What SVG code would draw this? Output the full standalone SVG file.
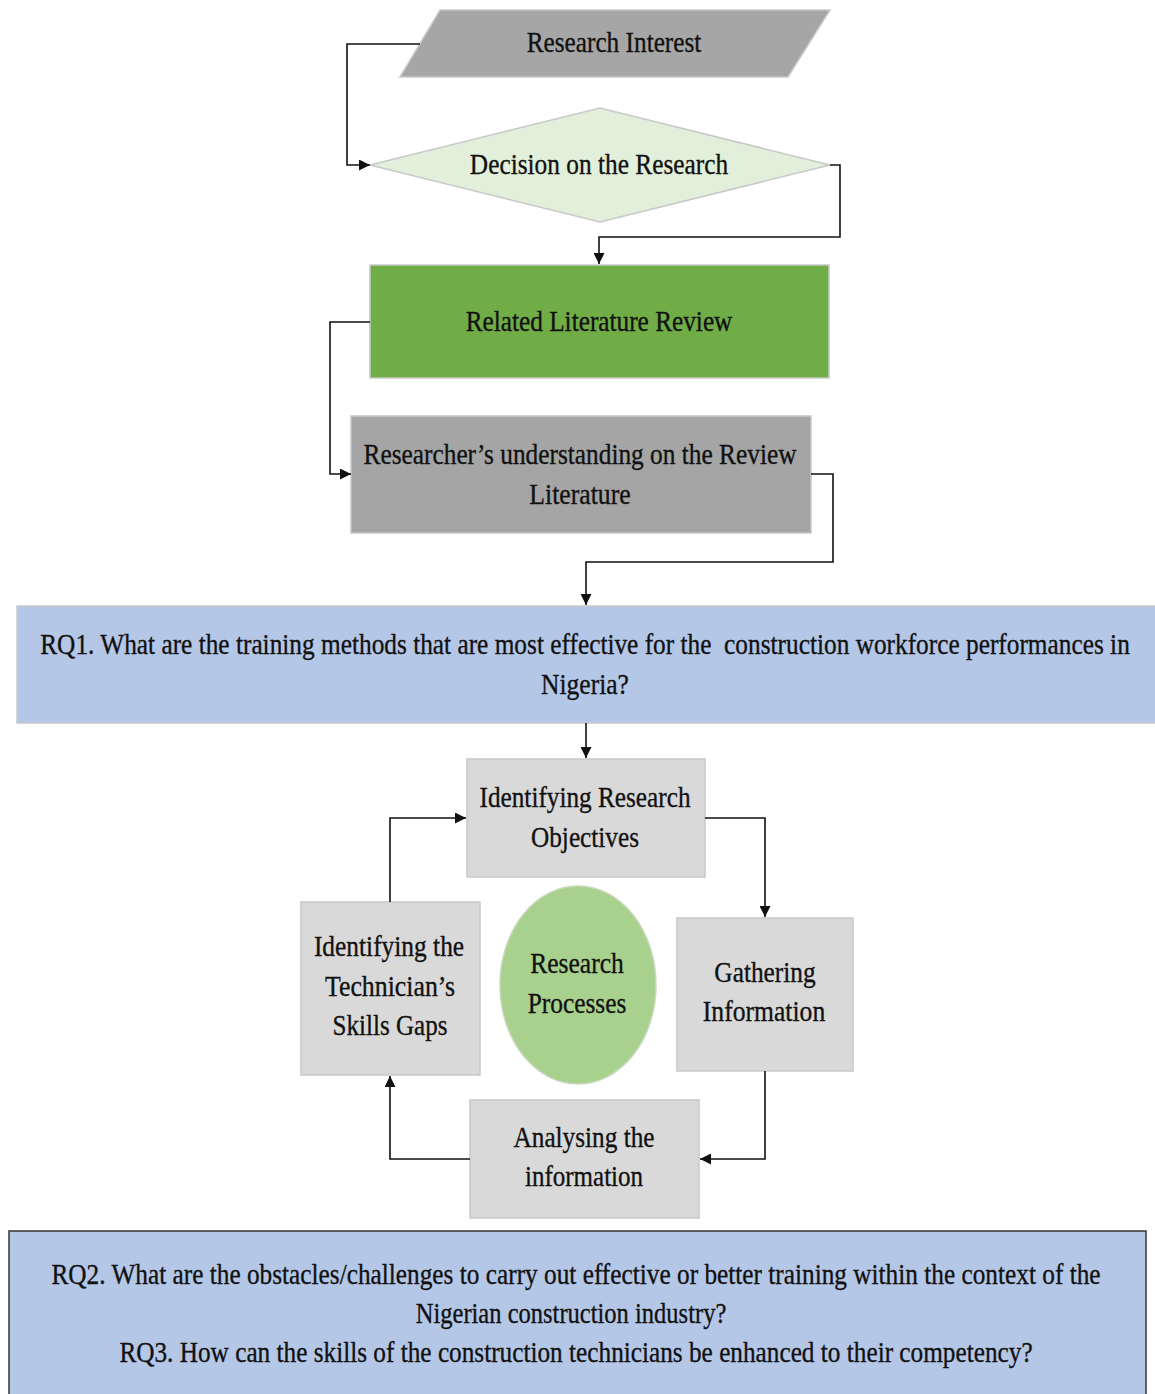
<svg xmlns="http://www.w3.org/2000/svg" width="1155" height="1394" viewBox="0 0 1155 1394">
  <style>
    .t { font-family: "Liberation Serif", "DejaVu Serif", serif; font-size: 30px; fill: #111; stroke: #111; stroke-width: 0.35; text-anchor: middle; }
    .box { stroke: #c8c8c8; stroke-width: 1.5; }
    .link { fill: none; stroke: #111; stroke-width: 1.6; marker-end: url(#arrow); }
  </style>
  <defs>
    <marker id="arrow" markerUnits="userSpaceOnUse" markerWidth="11" markerHeight="11" refX="11" refY="5.5" orient="auto">
      <path d="M0,0 L11,5.5 L0,11 z" fill="#111"/>
    </marker>
  </defs>
  <rect width="1155" height="1394" fill="#ffffff"/>

  <!-- flow nodes; labels are set in a narrowed serif via scale(0.844,1) -->
  <g id="research-interest">
    <polygon class="box" points="440,10 830,10 788,77 400,77" fill="#a6a6a6"/>
    <text class="t" transform="translate(614,52) scale(0.844,1)" textLength="207" lengthAdjust="spacingAndGlyphs">Research Interest</text>
  </g>
  <g id="decision">
    <polygon class="box" points="370,165 600,108 830,165 600,222" fill="#e2efda"/>
    <text class="t" transform="translate(599,174) scale(0.844,1)" textLength="306" lengthAdjust="spacingAndGlyphs">Decision on the Research</text>
  </g>
  <g id="literature-review">
    <rect class="box" x="370" y="265" width="459" height="113" fill="#70ad47"/>
    <text class="t" transform="translate(599,331) scale(0.844,1)" textLength="316" lengthAdjust="spacingAndGlyphs">Related Literature Review</text>
  </g>
  <g id="understanding">
    <rect class="box" x="351" y="416" width="460" height="117" fill="#a5a5a5"/>
    <text class="t" transform="translate(580,464) scale(0.844,1)" textLength="513" lengthAdjust="spacingAndGlyphs">Researcher’s understanding on the Review</text>
    <text class="t" transform="translate(580,504) scale(0.844,1)" textLength="120" lengthAdjust="spacingAndGlyphs">Literature</text>
  </g>
  <g id="rq1">
    <rect class="box" x="17" y="606" width="1150" height="117" fill="#b4c7e7"/>
    <text class="t" xml:space="preserve" transform="translate(585,654) scale(0.844,1)" textLength="1291" lengthAdjust="spacingAndGlyphs">RQ1. What are the training methods that are most effective for the  construction workforce performances in</text>
    <text class="t" transform="translate(585,694) scale(0.844,1)" textLength="104" lengthAdjust="spacingAndGlyphs">Nigeria?</text>
  </g>

  <!-- research process cycle -->
  <g id="objectives">
    <rect class="box" x="467" y="759" width="238" height="118" fill="#d9d9d9"/>
    <text class="t" transform="translate(585,807) scale(0.844,1)" textLength="250" lengthAdjust="spacingAndGlyphs">Identifying Research</text>
    <text class="t" transform="translate(585,847) scale(0.844,1)" textLength="128" lengthAdjust="spacingAndGlyphs">Objectives</text>
  </g>
  <g id="gathering">
    <rect class="box" x="677" y="918" width="176" height="153" fill="#d9d9d9"/>
    <text class="t" transform="translate(765,982) scale(0.844,1)" textLength="120" lengthAdjust="spacingAndGlyphs">Gathering</text>
    <text class="t" transform="translate(764,1021) scale(0.844,1)" textLength="145" lengthAdjust="spacingAndGlyphs">Information</text>
  </g>
  <g id="analysing">
    <rect class="box" x="470" y="1100" width="229" height="118" fill="#d9d9d9"/>
    <text class="t" transform="translate(584,1147) scale(0.844,1)" textLength="167" lengthAdjust="spacingAndGlyphs">Analysing the</text>
    <text class="t" transform="translate(584,1186) scale(0.844,1)" textLength="140" lengthAdjust="spacingAndGlyphs">information</text>
  </g>
  <g id="skills-gaps">
    <rect class="box" x="301" y="902" width="179" height="173" fill="#d9d9d9"/>
    <text class="t" transform="translate(389,956) scale(0.844,1)" textLength="178" lengthAdjust="spacingAndGlyphs">Identifying the</text>
    <text class="t" transform="translate(390,996) scale(0.844,1)" textLength="154" lengthAdjust="spacingAndGlyphs">Technician’s</text>
    <text class="t" transform="translate(390,1035) scale(0.844,1)" textLength="136" lengthAdjust="spacingAndGlyphs">Skills Gaps</text>
  </g>
  <g id="research-processes">
    <ellipse cx="578" cy="985" rx="78" ry="99" fill="#a9d18e" stroke="#c8d8bc" stroke-width="1.5"/>
    <text class="t" transform="translate(577,973) scale(0.844,1)" textLength="111" lengthAdjust="spacingAndGlyphs">Research</text>
    <text class="t" transform="translate(577,1013) scale(0.844,1)" textLength="117" lengthAdjust="spacingAndGlyphs">Processes</text>
  </g>

  <g id="rq2-rq3">
    <rect x="9" y="1231" width="1137" height="175" fill="#b4c7e7" stroke="#333" stroke-width="1.5"/>
    <text class="t" transform="translate(576,1284) scale(0.844,1)" textLength="1243" lengthAdjust="spacingAndGlyphs">RQ2. What are the obstacles/challenges to carry out effective or better training within the context of the</text>
    <text class="t" transform="translate(571,1323) scale(0.844,1)" textLength="368" lengthAdjust="spacingAndGlyphs">Nigerian construction industry?</text>
    <text class="t" transform="translate(576,1362) scale(0.844,1)" textLength="1082" lengthAdjust="spacingAndGlyphs">RQ3. How can the skills of the construction technicians be enhanced to their competency?</text>
  </g>

  <!-- connectors -->
  <g id="connectors">
    <polyline class="link" points="420,44 347,44 347,165 370,165"/>
    <polyline class="link" points="830,165 840,165 840,237 599,237 599,264"/>
    <polyline class="link" points="370,322 330,322 330,474 351,474"/>
    <polyline class="link" points="811,474 833,474 833,562 586,562 586,605"/>
    <polyline class="link" points="586,723 586,758"/>
    <polyline class="link" points="705,818 765,818 765,917"/>
    <polyline class="link" points="765,1071 765,1159 700,1159"/>
    <polyline class="link" points="470,1159 390,1159 390,1076"/>
    <polyline class="link" points="390,902 390,818 466,818"/>
  </g>
</svg>
